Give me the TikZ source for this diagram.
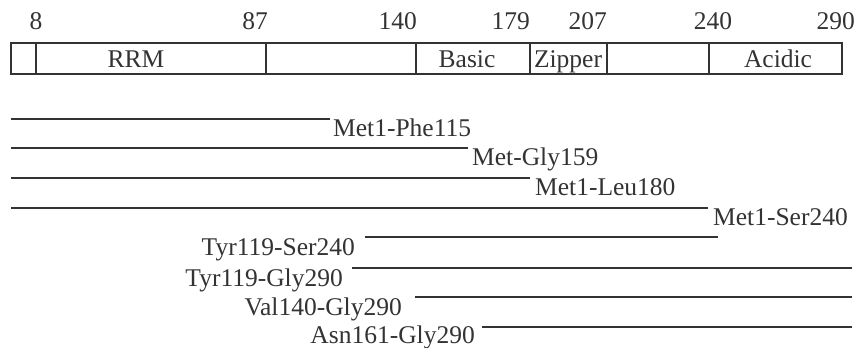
\documentclass[tikz,border=0pt]{standalone}
\usepackage{fontspec}
\setmainfont{Liberation Serif}
\definecolor{ink}{rgb}{0.2,0.2,0.2}
\begin{document}
\begin{tikzpicture}[x=1pt,y=-1pt,
  every node/.style={font=\fontsize{25.5}{28}\selectfont, text=ink, inner sep=0pt},
  boxline/.style={draw=ink, line width=1.6pt},
  frag/.style={draw=ink, line width=1.6pt},
  num/.style={anchor=base},
  seglab/.style={anchor=base},
  rlab/.style={anchor=base west},
  llab/.style={anchor=base east}]
\useasboundingbox (0,0) rectangle (857,348);
% domain bar
\coordinate (bl) at (11,43);
\coordinate (br) at (842,74);
\draw[boxline] (bl) rectangle (br);
\foreach \x/\n in {36/d8,266/d87,416/d140,530/d179,607/d207,709/d240}{
  \coordinate (\n t) at (\x,43);
  \coordinate (\n b) at (\x,74);
  \draw[boxline] (\n t) -- (\n b);
}
% position numbers
\node[num] (n8) at (36,29) {8};
\node[num, anchor=base east] (n87) at (268,29) {87};
\node[num, anchor=base east] (n140) at (417,29) {140};
\node[num, anchor=base east] (n179) at (530,29) {179};
\node[num, anchor=base east] (n207) at (607,29) {207};
\node[num] (n240) at (713,29) {240};
\node[num, anchor=base east] (n290) at (855,29) {290};
% segment labels
\node[seglab] (rrm) at (136,67) {RRM};
\node[seglab] (basic) at (467,67) {Basic};
\node[seglab] (zip) at (568,67) {Zipper};
\node[seglab] (acid) at (778,67) {Acidic};
% fragments
\foreach \i/\xa/\xb/\y in {1/11/330/119,2/11/468/148,3/11/530/178,4/11/708/208,
                          5/365/718/237,6/352/852/268,7/415/852/297,8/482/852/327}{
  \coordinate (f\i a) at (\xa,\y);
  \coordinate (f\i b) at (\xb,\y);
  \draw[frag] (f\i a) -- (f\i b);
}
\node[rlab] (t1) at ([xshift=3pt,yshift=-17pt]f1b) {Met1-Phe115};
\node[rlab] (t2) at ([xshift=4pt,yshift=-17pt]f2b) {Met-Gly159};
\node[rlab] (t3) at ([xshift=5pt,yshift=-17pt]f3b) {Met1-Leu180};
\node[rlab] (t4) at ([xshift=5pt,yshift=-17pt]f4b) {Met1-Ser240};
\node[llab] (t5) at ([xshift=-10pt,yshift=-18pt]f5a) {Tyr119-Ser240};
\node[llab] (t6) at ([xshift=-9pt,yshift=-18pt]f6a) {Tyr119-Gly290};
\node[llab] (t7) at ([xshift=-13pt,yshift=-18pt]f7a) {Val140-Gly290};
\node[llab] (t8) at ([xshift=-7pt,yshift=-16pt]f8a) {Asn161-Gly290};
\end{tikzpicture}
\end{document}
